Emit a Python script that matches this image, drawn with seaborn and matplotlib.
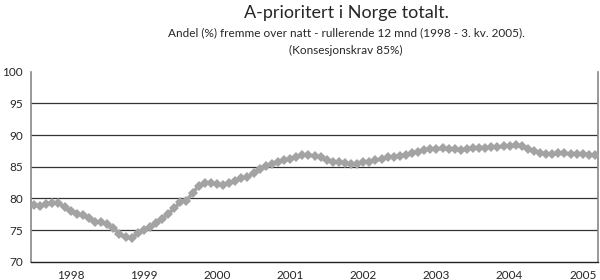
import matplotlib
matplotlib.use("Agg")
import matplotlib.pyplot as plt
import seaborn as sns
import numpy as np
import pandas as pd

# Monthly values, Jan 1998 - Sep 2005
values = [
    78.9, 78.8, 79.1, 79.3, 79.2, 78.7, 78.0, 77.5, 77.3, 76.9, 76.3, 76.2,
    75.9, 75.3, 74.3, 73.9, 73.7, 74.5, 75.0, 75.4, 76.1, 76.8, 77.6, 78.4,
    79.5, 79.6, 80.9, 81.9, 82.4, 82.4, 82.2, 82.1, 82.4, 82.8, 83.2, 83.4,
    84.0, 84.6, 85.1, 85.5, 85.7, 86.0, 86.2, 86.5, 86.9, 86.8, 86.7, 86.5,
    86.0, 85.8, 85.7, 85.6, 85.4, 85.5, 85.7, 85.8, 86.0, 86.2, 86.5, 86.6,
    86.7, 86.9, 87.2, 87.4, 87.6, 87.8, 87.8, 87.9, 87.8, 87.8, 87.6, 87.8,
    88.0, 88.0, 88.0, 88.1, 88.1, 88.2, 88.3, 88.4, 88.2, 87.8, 87.5, 87.2,
    87.0, 87.0, 87.1, 87.1, 87.0, 87.0, 87.0, 86.9, 86.8,
]
years = ["1998", "1999", "2000", "2001", "2002", "2003", "2004", "2005"]
y_ticks = [70, 75, 80, 85, 90, 95, 100]

title = "A-prioritert i Norge totalt."
subtitle1 = "Andel (%) fremme over natt - rullerende 12 mnd (1998 - 3. kv. 2005)."
subtitle2 = "(Konsesjonskrav 85%)"

sns.set_style("white")
plt.rcParams["font.family"] = ["Lato", "DejaVu Sans"]

df = pd.DataFrame({"idx": np.arange(len(values)), "val": values})

fig = plt.figure(figsize=(6, 2.8), dpi=100)
ax = fig.add_axes([31 / 600, (280 - 261.7) / 280, (598 - 31) / 600, (261.7 - 71.7) / 280])

for yv in y_ticks[1:-1]:
    ax.axhline(yv, color="#333333", lw=0.9, zorder=1)

sns.lineplot(data=df, x="idx", y="val", ax=ax, color="#a3a3a3", lw=2.6,
             marker="D", markersize=5, markeredgewidth=0, zorder=3)

ax.set_xlim(-0.5, len(values) - 0.5)
ax.set_ylim(70, 100)
ax.set_yticks(y_ticks)
ax.set_yticklabels([str(v) for v in y_ticks], fontsize=8.5)
ax.set_xticks([6 + 12 * k for k in range(len(years))])
ax.set_xticklabels(years, fontsize=8.5)
ax.set_xticks(np.arange(-0.5, len(values), 1), minor=True)
ax.tick_params(axis="x", which="major", length=0, pad=6)
ax.tick_params(axis="x", which="minor", length=3, width=0.7, color="#333333", direction="out")
ax.tick_params(axis="y", length=4, width=0.8, color="#555555", direction="out", pad=2)
ax.set_xlabel("")
ax.set_ylabel("")

for side in ["top"]:
    ax.spines[side].set_visible(False)
ax.spines["left"].set_color("#888888")
ax.spines["left"].set_linewidth(1.2)
ax.spines["right"].set_color("#888888")
ax.spines["right"].set_linewidth(1.2)
ax.spines["bottom"].set_color("#222222")
ax.spines["bottom"].set_linewidth(1.0)

fig.text(346 / 600, 1 - 13 / 280, title, ha="center", va="center", fontsize=13)
fig.text(346 / 600, 1 - 33 / 280, subtitle1, ha="center", va="center", fontsize=8.5)
fig.text(346 / 600, 1 - 50 / 280, subtitle2, ha="center", va="center", fontsize=8.5)

fig.savefig("out.png", dpi=100)
